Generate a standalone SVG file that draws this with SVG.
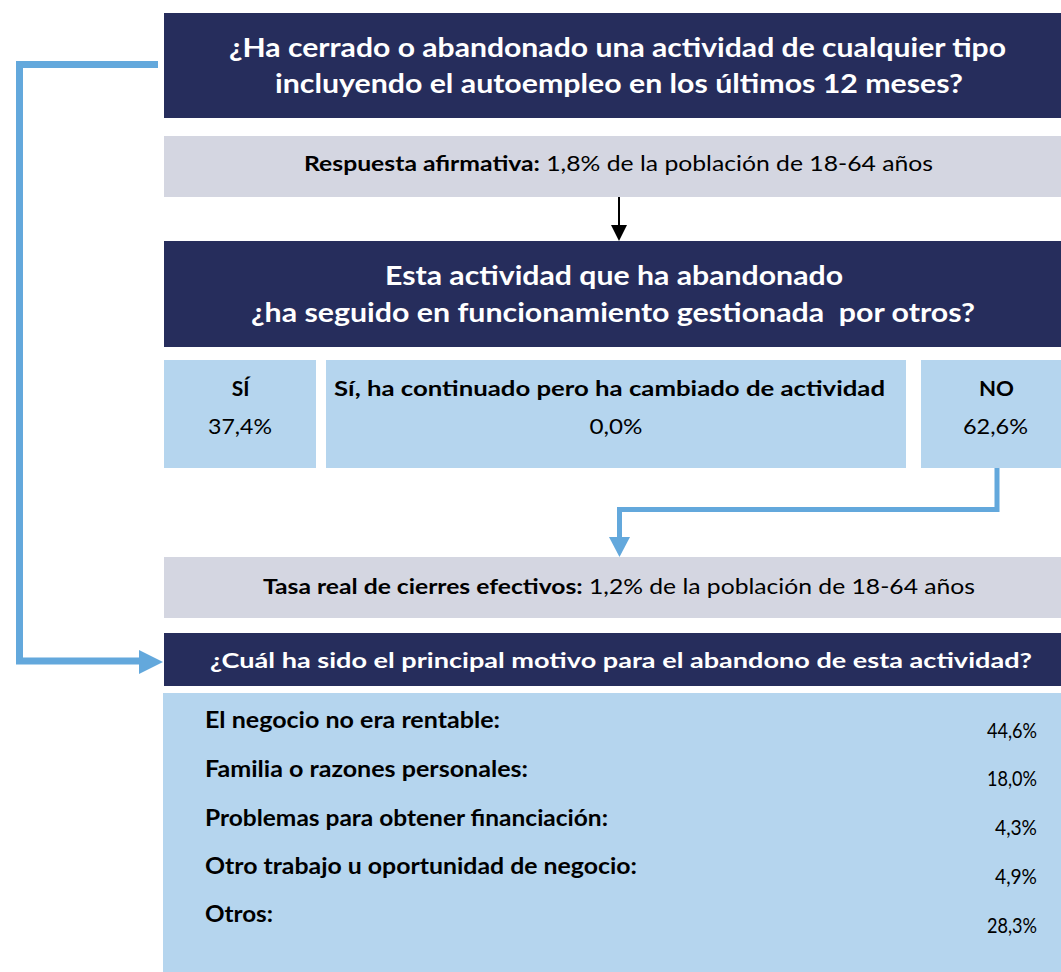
<svg xmlns="http://www.w3.org/2000/svg" width="1061" height="972" viewBox="0 0 1061 972">
<defs>
<style>
.navy{fill:#262D5C}
.gray{fill:#D4D6E1}
.lb{fill:#B5D5EE}
text{font-family:Lato,"Open Sans","Liberation Sans",sans-serif}
.tw{fill:#FFFFFF;font-weight:bold;font-size:27px;text-anchor:middle}
.tw2{fill:#FFFFFF;font-weight:bold;font-size:21px;text-anchor:middle}
.tk{fill:#000000;font-size:21px;text-anchor:middle}
.b{font-weight:bold}
.lab{fill:#000000;font-weight:bold;font-size:22px}
.val{fill:#000000;font-size:21px;text-anchor:end}
.conn{fill:none;stroke:#63A8DC;stroke-linejoin:miter}
</style>
</defs>
<rect width="1061" height="972" fill="#FFFFFF"/>
<g id="q1">
<rect class="navy" x="164" y="13" width="897" height="105"/>
<text class="tw" x="617.5" y="57" textLength="777" lengthAdjust="spacingAndGlyphs">¿Ha cerrado o abandonado una actividad de cualquier tipo</text>
<text class="tw" x="619" y="93" textLength="688" lengthAdjust="spacingAndGlyphs">incluyendo el autoempleo en los últimos 12 meses?</text>
</g>
<g id="r1">
<rect class="gray" x="164" y="136" width="897" height="61"/>
<text class="tk" x="618.5" y="171" textLength="629" lengthAdjust="spacingAndGlyphs"><tspan class="b">Respuesta afirmativa:</tspan> 1,8% de la población de 18-64 años</text>
</g>
<g id="q2">
<rect class="navy" x="164" y="241" width="897" height="106"/>
<text class="tw" x="614" y="285" textLength="458" lengthAdjust="spacingAndGlyphs">Esta actividad que ha abandonado</text>
<text class="tw" x="613" y="322" textLength="724" lengthAdjust="spacingAndGlyphs">¿ha seguido en funcionamiento gestionada &#160;por otros?</text>
</g>
<g id="si">
<rect class="lb" x="164" y="360" width="152" height="108"/>
<text class="tk b" x="240.5" y="396">SÍ</text>
<text class="tk" x="240" y="434" font-size="22" textLength="64" lengthAdjust="spacingAndGlyphs">37,4%</text>
</g>
<g id="si-cambio">
<rect class="lb" x="326" y="360" width="580" height="108"/>
<text class="tk b" x="609.5" y="396" textLength="551" lengthAdjust="spacingAndGlyphs">Sí, ha continuado pero ha cambiado de actividad</text>
<text class="tk" x="616" y="434" font-size="22" textLength="53" lengthAdjust="spacingAndGlyphs">0,0%</text>
</g>
<g id="no">
<rect class="lb" x="921" y="360" width="140" height="108"/>
<text class="tk b" x="996.5" y="396" textLength="35" lengthAdjust="spacingAndGlyphs">NO</text>
<text class="tk" x="995.5" y="434" font-size="22" textLength="65" lengthAdjust="spacingAndGlyphs">62,6%</text>
</g>
<g id="r2">
<rect class="gray" x="164" y="557" width="897" height="61"/>
<text class="tk" x="619" y="594" textLength="712" lengthAdjust="spacingAndGlyphs"><tspan class="b">Tasa real de cierres efectivos:</tspan> 1,2% de la población de 18-64 años</text>
</g>
<g id="q3">
<rect class="navy" x="164" y="633" width="897" height="53"/>
<text class="tw2" x="621" y="668" textLength="822" lengthAdjust="spacingAndGlyphs">¿Cuál ha sido el principal motivo para el abandono de esta actividad?</text>
</g>
<g id="motivos">
<rect class="lb" x="163" y="693" width="898" height="279"/>
<text class="lab" x="205" y="728" textLength="295" lengthAdjust="spacingAndGlyphs">El negocio no era rentable:</text>
<text class="val" x="1037" y="738" textLength="50" lengthAdjust="spacingAndGlyphs">44,6%</text>
<text class="lab" x="205" y="777" textLength="323" lengthAdjust="spacingAndGlyphs">Familia o razones personales:</text>
<text class="val" x="1037" y="786" textLength="50" lengthAdjust="spacingAndGlyphs">18,0%</text>
<text class="lab" x="205" y="826" textLength="403" lengthAdjust="spacingAndGlyphs">Problemas para obtener financiación:</text>
<text class="val" x="1037" y="835" textLength="42" lengthAdjust="spacingAndGlyphs">4,3%</text>
<text class="lab" x="205" y="874" textLength="432" lengthAdjust="spacingAndGlyphs">Otro trabajo u oportunidad de negocio:</text>
<text class="val" x="1037" y="884" textLength="42" lengthAdjust="spacingAndGlyphs">4,9%</text>
<text class="lab" x="205" y="922" textLength="68" lengthAdjust="spacingAndGlyphs">Otros:</text>
<text class="val" x="1037" y="933" textLength="50" lengthAdjust="spacingAndGlyphs">28,3%</text>
</g>
<g id="connectors">
<line x1="619" y1="197" x2="619" y2="227" stroke="#000000" stroke-width="2"/>
<polygon points="611,225 627,225 619,241" fill="#000000"/>
<polyline class="conn" stroke-width="7" points="158,64.5 19.5,64.5 19.5,661 141,661"/>
<polygon points="139,650 163,662 139,674" fill="#63A8DC"/>
<polyline class="conn" stroke-width="5" points="997,468 997,509.5 619.5,509.5 619.5,539"/>
<polygon points="609,537 630,537 619.5,557" fill="#63A8DC"/>
</g>
</svg>
